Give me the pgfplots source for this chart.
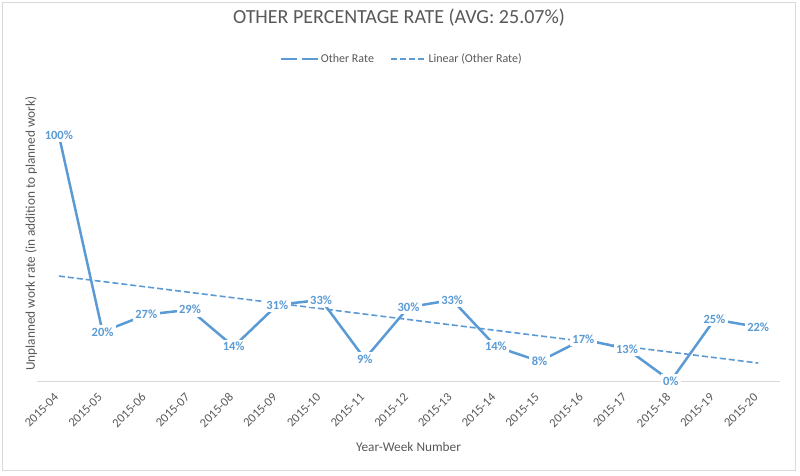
\documentclass[border=0pt]{standalone}
\usepackage{pgfplots}
\pgfplotsset{compat=1.18}
\usepackage{pgfplotstable}
\usepackage{fontspec}
\setmainfont{Carlito}
\definecolor{serieblue}{HTML}{5B9BD5}
\definecolor{textgray}{HTML}{595959}
\definecolor{framegray}{HTML}{D9D9D9}

% week index (0 = 2015-04) and other rate in %
\pgfplotstableread{
wk rate
0 100
1 20
2 27
3 29
4 14
5 31
6 33
7 9
8 30
9 33
10 14
11 8
12 17
13 13
14 0
15 25
16 22
}\ratetable

\begin{document}
\begin{tikzpicture}
\fill[white] (-37pt,-94pt) rectangle (763pt,381pt);
\draw[framegray, line width=1pt] (-34.5pt,-89pt) rectangle (758pt,379pt);
\begin{axis}[
    at={(0pt,0pt)}, anchor=south west,
    scale only axis, width=743pt, height=295pt,
    xmin=-0.5, xmax=16.5, ymin=0, ymax=120,
    clip=false,
    /pgf/number format/assume math mode=true,
    axis line style={draw=none},
    major tick length=0pt,
    ytick=\empty,
    xtick={0,...,16},
    xticklabels={2015-04,2015-05,2015-06,2015-07,2015-08,2015-09,2015-10,2015-11,
      2015-12,2015-13,2015-14,2015-15,2015-16,2015-17,2015-18,2015-19,2015-20},
    xticklabel style={yshift=-12pt, rotate=45, anchor=east,
      font=\fontsize{12.5}{14}\selectfont, text=textgray},
    title={OTHER PERCENTAGE RATE (AVG: 25.07\%)},
    title style={at={(axis description cs:0.4872,1.21)}, anchor=center,
      font=\fontsize{20}{24}\selectfont, text=textgray},
    xlabel={Year-Week Number},
    xlabel style={at={(axis description cs:0.5,-0.224)}, anchor=center,
      font=\fontsize{13.3}{16}\selectfont, text=textgray},
    ylabel={Unplanned work rate (in addition to planned work)},
    ylabel style={at={(axis description cs:-0.008,0.5)}, anchor=center,
      font=\fontsize{13.3}{16}\selectfont, text=textgray},
    legend style={at={(axis description cs:0.4906,1.0915)}, anchor=center,
      draw=none, fill=none, legend columns=-1,
      font=\fontsize{12}{14}\selectfont, text=textgray,
      /tikz/every even column/.append style={column sep=14pt}},
  ]
  \draw[framegray, line width=1pt] (rel axis cs:0,0) -- (rel axis cs:1,0);

  \addplot[serieblue, line width=2.5pt, line join=round,
    nodes near coords={\pgfmathprintnumber{\pgfplotspointmeta}\%},
    nodes near coords style={anchor=center, fill=white, inner sep=2.5pt,
      font=\bfseries\fontsize{12.5}{14}\selectfont, text=serieblue},
    legend image code/.code={
      \draw[serieblue, line width=2.5pt] (0pt,0pt) -- (16pt,0pt) (21pt,0pt) -- (37pt,0pt);}]
    table[x=wk, y=rate] {\ratetable};
  \addlegendentry{Other Rate}

  \addplot[serieblue, line width=1.6pt, dash pattern=on 6pt off 3pt,
    legend image code/.code={
      \draw[serieblue, line width=1.6pt, dash pattern=on 6pt off 3pt] (0pt,0pt) -- (35pt,0pt);}]
    table[x=wk, y={create col/linear regression={y=rate}}] {\ratetable};
  \addlegendentry{Linear (Other Rate)}
\end{axis}
\end{tikzpicture}
\end{document}
